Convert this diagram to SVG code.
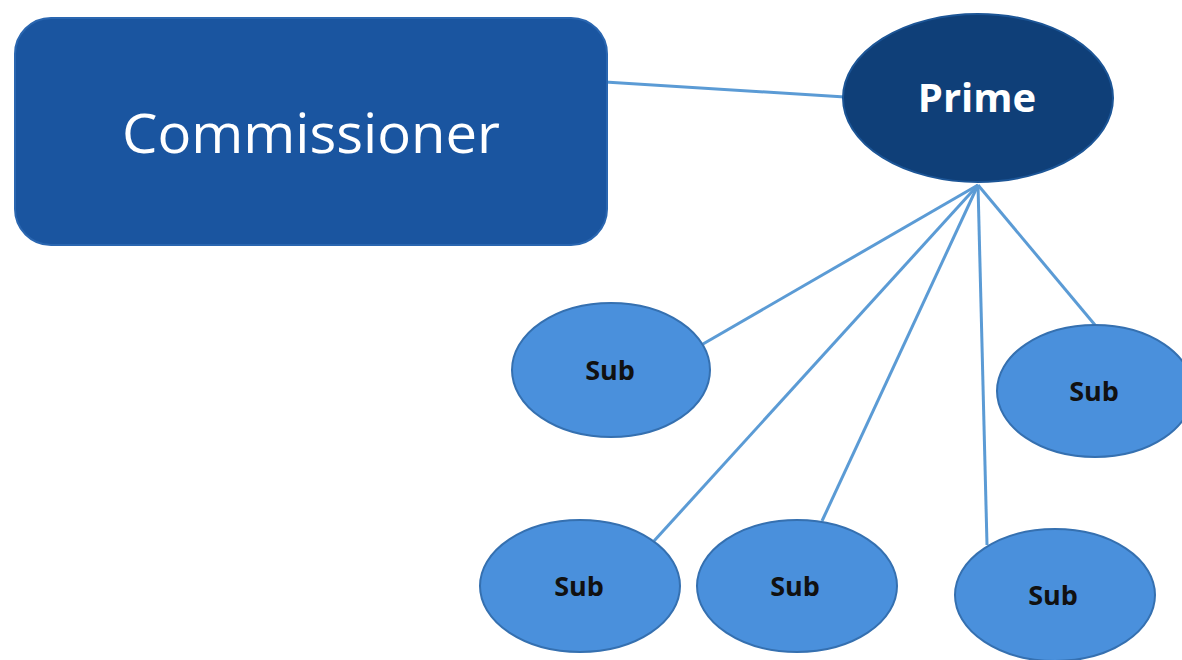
<svg xmlns="http://www.w3.org/2000/svg" width="1182" height="660" viewBox="0 0 1182 660">
<style>
.conn{stroke:#5b9bd5;stroke-width:3;fill:none}
.sub{fill:#4a90dc;stroke:#3570b0;stroke-width:2}
.subt{font-family:"Open Sans","Liberation Sans",sans-serif;font-weight:bold;font-size:27px;fill:#111;text-anchor:middle}
</style>
<rect width="1182" height="660" fill="#ffffff"/>
<g id="connectors">
<line class="conn" x1="605" y1="82" x2="845" y2="97"/>
<line class="conn" x1="978" y1="185" x2="703" y2="344"/>
<line class="conn" x1="978" y1="185" x2="654" y2="541"/>
<line class="conn" x1="978" y1="185" x2="822" y2="521"/>
<line class="conn" x1="978" y1="185" x2="987" y2="545"/>
<line class="conn" x1="978" y1="185" x2="1095" y2="325"/>
</g>
<g id="commissioner">
<rect x="15" y="18" width="592" height="227" rx="36" fill="#1a55a0" stroke="#2a66b0" stroke-width="2"/>
<text x="311" y="153" font-family="Open Sans, Liberation Sans, sans-serif" font-size="54" fill="#ffffff" text-anchor="middle" textLength="378" lengthAdjust="spacingAndGlyphs">Commissioner</text>
</g>
<g id="prime">
<ellipse cx="978" cy="98" rx="135" ry="84" fill="#0f3f78" stroke="#1c5596" stroke-width="2"/>
<text x="977" y="112" font-family="Open Sans, Liberation Sans, sans-serif" font-weight="bold" font-size="40" fill="#ffffff" text-anchor="middle">Prime</text>
</g>
<g id="sub1">
<ellipse class="sub" cx="611" cy="370" rx="99" ry="67"/>
<text class="subt" x="610" y="380">Sub</text>
</g>
<g id="sub2">
<ellipse class="sub" cx="580" cy="586" rx="100" ry="66"/>
<text class="subt" x="579" y="596">Sub</text>
</g>
<g id="sub3">
<ellipse class="sub" cx="797" cy="586" rx="100" ry="66"/>
<text class="subt" x="795" y="596">Sub</text>
</g>
<g id="sub4">
<ellipse class="sub" cx="1095" cy="391" rx="98" ry="66"/>
<text class="subt" x="1094" y="401">Sub</text>
</g>
<g id="sub5">
<ellipse class="sub" cx="1055" cy="595" rx="100" ry="66"/>
<text class="subt" x="1053" y="605">Sub</text>
</g>
</svg>
